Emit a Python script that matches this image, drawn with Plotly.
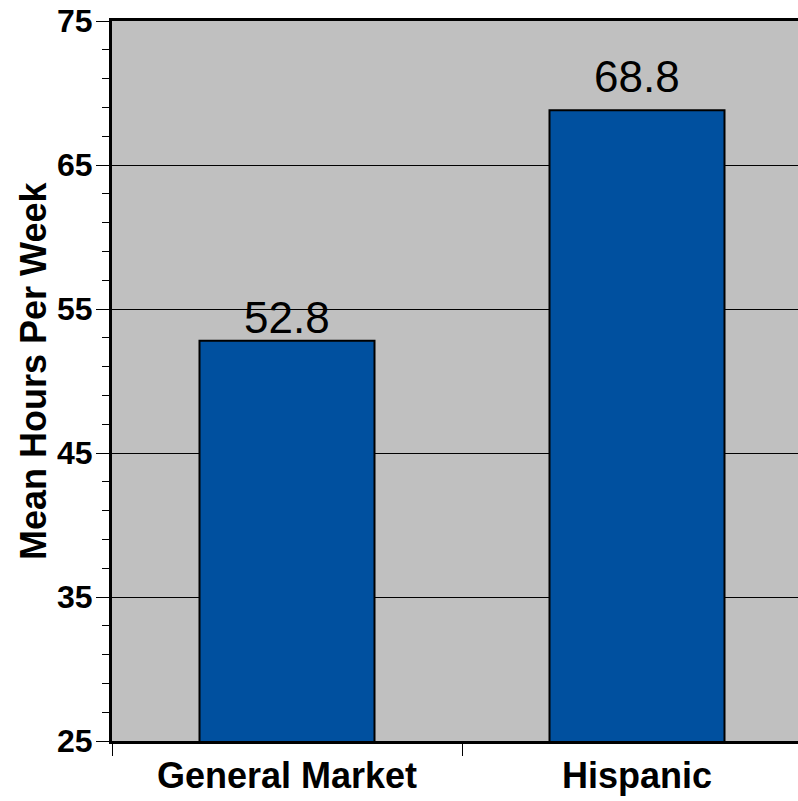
import plotly.graph_objects as go

categories = ["General Market", "Hispanic"]
values = [52.8, 68.8]
y_ticks = [25, 35, 45, 55, 65, 75]
y_title = "Mean Hours Per Week"

FONT = "Liberation Sans, Arial, Helvetica, sans-serif"
BAR_COLOR = "#00509F"
BG = "#C0C0C0"

W, H = 798, 801
L, T, B, R = 112, 21, 60, 0
PW = W - L - R
PH = H - T - B

fig = go.Figure()
fig.add_trace(go.Bar(
    x=categories, y=values, width=0.5,
    marker=dict(color=BAR_COLOR, line=dict(color="black", width=2)),
    hoverinfo="skip",
))

label_shift = [-3, 7]
for c, v, s in zip(categories, values, label_shift):
    fig.add_annotation(x=c, y=v, text=f"{v:.1f}", showarrow=False,
                       yanchor="bottom", yshift=s,
                       font=dict(family=FONT, size=44, color="black"))

fig.add_annotation(xref="paper", yref="paper", x=-79 / PW, y=1 - 350 / PH,
                   text=y_title, textangle=-90, showarrow=False,
                   xanchor="center", yanchor="middle",
                   font=dict(family=FONT, size=36, color="black", weight="bold"))

fig.update_layout(
    width=W, height=H,
    margin=dict(l=L, r=R, t=T, b=B, autoexpand=False),
    paper_bgcolor="white", plot_bgcolor=BG,
    showlegend=False,
    font=dict(family=FONT, color="black"),
)
fig.update_xaxes(
    type="category", range=[-0.5, -0.5 + PW / 350], automargin=False,
    tickson="boundaries", ticks="outside", ticklen=12, tickwidth=1, tickcolor="black",
    showline=True, linecolor="black", linewidth=3, mirror=True,
    showgrid=False, ticklabelstandoff=1,
    tickfont=dict(family=FONT, size=36, color="black", weight="bold"),
)
fig.update_yaxes(
    range=[25, 75], tickvals=y_ticks, ticktext=[str(t) for t in y_ticks], automargin=False,
    ticks="outside", ticklen=13, tickwidth=1, tickcolor="black",
    minor=dict(dtick=2, tick0=25, ticks="outside", ticklen=7, tickwidth=1, tickcolor="black", showgrid=False),
    showline=True, linecolor="black", linewidth=3,
    showgrid=True, gridcolor="black", gridwidth=1,
    zeroline=False, ticklabelstandoff=-3,
    tickfont=dict(family=FONT, size=32, color="black", weight="bold"),
)

fig.write_html("out.html", config={"displayModeBar": False, "staticPlot": True},
               post_script="document.body.style.margin='0';document.body.style.overflow='hidden';")
